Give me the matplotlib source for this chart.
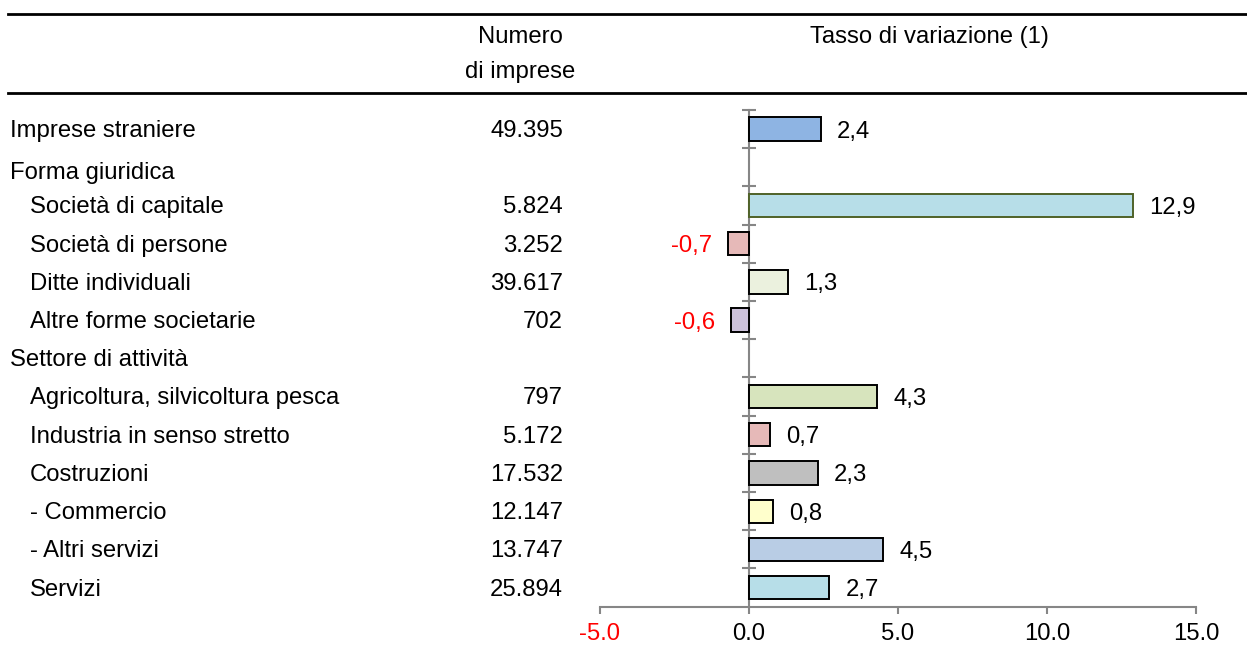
import matplotlib
matplotlib.use("Agg")
import matplotlib.pyplot as plt
from matplotlib.lines import Line2D
from matplotlib.transforms import blended_transform_factory

plt.rcParams['font.family'] = ['Liberation Sans', 'DejaVu Sans']

# ---- data ----
labels = ["Imprese straniere", "Forma giuridica", "Società di capitale",
          "Società di persone", "Ditte individuali", "Altre forme societarie",
          "Settore di attività", "Agricoltura, silvicoltura pesca",
          "Industria in senso stretto", "Costruzioni", "- Commercio",
          "- Altri servizi", "Servizi"]
levels = [0, 0, 1, 1, 1, 1, 0, 1, 1, 1, 1, 1, 1]
numero_imprese = ["49.395", "", "5.824", "3.252", "39.617", "702", "",
                  "797", "5.172", "17.532", "12.147", "13.747", "25.894"]
tasso = [2.4, None, 12.9, -0.7, 1.3, -0.6, None, 4.3, 0.7, 2.3, 0.8, 4.5, 2.7]
bar_colors = ["#8EB4E3", None, "#B7DEE8", "#E6B9B8", "#EBF1DE", "#CCC1DA",
              None, "#D7E4BD", "#E6B9B8", "#BFBFBF", "#FFFFCC", "#B9CDE5", "#B7DEE8"]
edge_colors = ["black", None, "#4F6228", "black", "black", "black",
               None, "black", "black", "black", "black", "black", "black"]
x_ticks = [-5.0, 0.0, 5.0, 10.0, 15.0]
header_num = "Numero\ndi imprese"
header_rate = "Tasso di variazione (1)"

W, H = 1247, 645
FS = 17.2
fig = plt.figure(figsize=(W / 100, H / 100), dpi=100)
ax = fig.add_axes([600 / W, (H - 606.7) / H, 596 / W, 496.7 / H])

n = len(labels)
idx = [i for i, v in enumerate(tasso) if v is not None]
vals = [tasso[i] for i in idx]
ax.barh(idx, vals, height=0.61,
        color=[bar_colors[i] for i in idx],
        edgecolor=[edge_colors[i] for i in idx], linewidth=1.4, zorder=3)

for i, v in zip(idx, vals):
    txt = f"{v:.1f}".replace(".", ",")
    if v >= 0:
        ax.annotate(txt, (v, i), xytext=(11.5, 0), textcoords="offset points",
                    ha="left", va="center_baseline", fontsize=FS, color="black")
    else:
        ax.annotate(txt, (v, i), xytext=(-11.5, 0), textcoords="offset points",
                    ha="right", va="center_baseline", fontsize=FS, color="red")

ax.set_xlim(x_ticks[0], x_ticks[-1])
ax.set_ylim(n - 0.5, -0.5)
ax.set_xticks(x_ticks)
ax.set_xticklabels([f"{t:.1f}" for t in x_ticks], fontsize=FS)
for lab, t in zip(ax.get_xticklabels(), x_ticks):
    lab.set_color("red" if t < 0 else "black")
ax.set_yticks([i - 0.5 for i in range(n)])
ax.set_yticklabels([])

grey = "#868686"
for s in ["top", "right"]:
    ax.spines[s].set_visible(False)
ax.spines["left"].set_position(("data", 0))
ax.spines["left"].set_color(grey)
ax.spines["bottom"].set_color(grey)
ax.spines["left"].set_linewidth(1.5)
ax.spines["bottom"].set_linewidth(1.5)
ax.tick_params(axis="x", direction="out", length=5, width=1.5, color=grey, pad=7)
ax.tick_params(axis="y", direction="inout", length=10, width=1.5, color=grey)
ax.set_facecolor("none")

# left table text
tr = blended_transform_factory(fig.transFigure, ax.transData)
for i, (lab, lev, num) in enumerate(zip(labels, levels, numero_imprese)):
    yoff = 0.15 if i == 1 else 0.05
    x0 = 10 if lev == 0 else 30
    ax.text(x0 / W, i + yoff, lab, transform=tr, ha="left", va="center",
            fontsize=FS, clip_on=False)
    if num:
        ax.text(563 / W, i + yoff, num, transform=tr, ha="right", va="center",
                fontsize=FS, clip_on=False)

# headers
fig.text(520 / W, 1 - 37 / H, header_num.split("\n")[0], ha="center", va="center", fontsize=FS)
fig.text(520 / W, 1 - 72 / H, header_num.split("\n")[1], ha="center", va="center", fontsize=FS)
fig.text(929 / W, 1 - 37 / H, header_rate, ha="center", va="center", fontsize=FS)

# rules
for yy in [14, 92.7]:
    fig.add_artist(Line2D([8 / W, 1.0], [1 - yy / H, 1 - yy / H],
                          transform=fig.transFigure, color="black", linewidth=2))

fig.savefig("out.png", dpi=100)
